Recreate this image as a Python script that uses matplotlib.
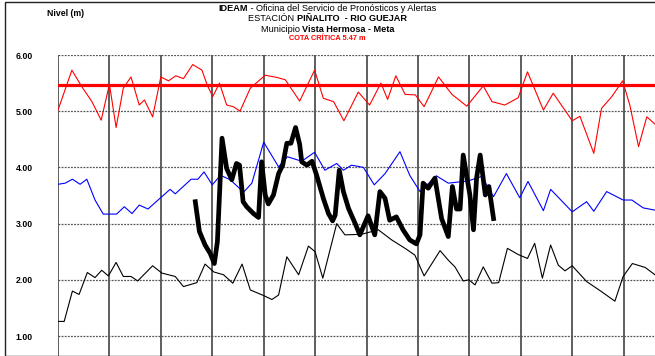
import numpy as np
import matplotlib.pyplot as plt
from matplotlib.patches import Rectangle

plt.rcParams['font.family'] = ['Liberation Sans', 'DejaVu Sans']

# niveles (m) por dia; x en dias desde el inicio de la grafica
x_max = [0, 0.27, 0.46, 0.66, 0.84, 1.0, 1.13, 1.27, 1.42, 1.58, 1.68, 1.84,
         2.0, 2.15, 2.29, 2.44, 2.62, 2.8, 2.9, 3.01, 3.14, 3.28, 3.41, 3.54,
         3.74, 4.03, 4.26, 4.42, 4.7, 4.99, 5.16, 5.36, 5.56, 5.84, 6.06,
         6.28, 6.41, 6.57, 6.75, 6.95, 7.12, 7.4, 7.66, 7.95, 8.27, 8.44,
         8.69, 8.95, 9.13, 9.44, 9.63, 10.0, 10.15, 10.42, 10.57, 10.77,
         10.98, 11.12, 11.29, 11.45, 11.61]
nivel_max = [5.02, 5.73, 5.44, 5.17, 4.84, 5.48, 4.71, 5.41, 5.61, 5.11, 5.2,
             4.9, 5.61, 5.54, 5.63, 5.58, 5.83, 5.73, 5.47, 5.26, 5.5, 5.11,
             5.08, 5.0, 5.41, 5.64, 5.6, 5.56, 5.18, 5.73, 5.23, 5.17, 4.83,
             5.34, 5.11, 5.5, 5.21, 5.63, 5.3, 5.29, 5.08, 5.61, 5.3, 5.09,
             5.45, 5.17, 5.11, 5.24, 5.7, 5.02, 5.32, 4.83, 4.91, 4.25, 5.05,
             5.26, 5.54, 5.11, 4.37, 4.9, 4.77]

x_med = [0, 0.14, 0.28, 0.43, 0.56, 0.72, 0.88, 1.14, 1.29, 1.44, 1.58, 1.75,
         2.02, 2.18, 2.28, 2.59, 2.72, 2.84, 3.0, 3.16, 3.35, 3.61, 3.77,
         4.0, 4.29, 4.46, 4.74, 4.99, 5.19, 5.42, 5.55, 5.71, 5.94, 6.15,
         6.36, 6.65, 6.84, 7.04, 7.36, 7.59, 7.98, 8.24, 8.47, 8.72, 8.98,
         9.14, 9.44, 9.58, 10.0, 10.28, 10.42, 10.67, 10.99, 11.16, 11.38,
         11.61]
nivel_med = [3.7, 3.72, 3.79, 3.7, 3.79, 3.42, 3.17, 3.17, 3.3, 3.18, 3.33,
             3.26, 3.48, 3.61, 3.53, 3.79, 3.79, 3.92, 3.69, 3.86, 3.78, 3.56,
             3.72, 4.45, 4.01, 4.19, 4.11, 4.27, 3.95, 4.07, 3.95, 4.04, 4.0,
             3.69, 3.89, 4.28, 3.86, 3.57, 3.85, 3.72, 3.76, 3.84, 3.48, 3.89,
             3.46, 3.75, 3.23, 3.61, 3.21, 3.39, 3.22, 3.57, 3.42, 3.42, 3.28,
             3.24]

x_min = [0, 0.12, 0.28, 0.41, 0.57, 0.72, 0.85, 0.98, 1.13, 1.27, 1.42, 1.55,
         1.84, 2.02, 2.28, 2.44, 2.7, 2.86, 3.03, 3.22, 3.4, 3.58, 3.74, 4.0,
         4.16, 4.29, 4.45, 4.68, 4.87, 5.0, 5.15, 5.42, 5.58, 5.9, 6.23,
         6.49, 6.75, 6.94, 7.12, 7.43, 7.59, 7.72, 7.88, 7.99, 8.11, 8.27,
         8.44, 8.57, 8.74, 8.95, 9.13, 9.27, 9.42, 9.58, 9.73, 9.86, 10.0,
         10.28, 10.57, 10.83, 10.99, 11.17, 11.42, 11.61]
nivel_min = [1.26, 1.26, 1.8, 1.74, 2.13, 2.04, 2.17, 2.07, 2.31, 2.06, 2.06,
             1.98, 2.25, 2.12, 2.06, 1.88, 1.95, 2.28, 2.14, 2.09, 1.94, 2.28,
             1.82, 1.72, 1.65, 1.73, 2.41, 2.09, 2.6, 2.5, 2.03, 3.0, 2.8,
             2.81, 2.89, 2.71, 2.56, 2.44, 2.07, 2.52, 2.35, 2.23, 1.98, 2.0,
             1.91, 2.23, 1.94, 1.95, 2.56, 2.45, 2.38, 2.65, 2.03, 2.62, 2.26,
             2.16, 2.25, 1.97, 1.79, 1.62, 2.06, 2.29, 2.22, 2.09]

x_act = [2.67, 2.75, 2.86, 2.96, 3.04, 3.1, 3.19, 3.28, 3.38, 3.47, 3.53,
         3.6, 3.67, 3.8, 3.9, 3.96, 4.03, 4.09, 4.19, 4.29, 4.37, 4.45, 4.53,
         4.62, 4.7, 4.74, 4.84, 4.94, 5.03, 5.16, 5.26, 5.34, 5.39, 5.47,
         5.55, 5.65, 5.78, 5.87, 6.03, 6.16, 6.26, 6.36, 6.45, 6.58, 6.71,
         6.84, 6.97, 7.04, 7.1, 7.2, 7.33, 7.46, 7.59, 7.67, 7.75, 7.82, 7.88,
         8.01, 8.08, 8.14, 8.21, 8.31, 8.38, 8.47]
nivel_act = [3.39, 2.86, 2.62, 2.47, 2.29, 2.68, 4.52, 3.98, 3.78, 4.07, 4.04,
             3.39, 3.3, 3.18, 3.11, 4.1, 3.51, 3.35, 3.51, 3.89, 4.04, 4.43,
             4.43, 4.71, 4.41, 4.1, 4.04, 4.11, 3.86, 3.45, 3.18, 3.05, 3.15,
             3.95, 3.57, 3.27, 3.0, 2.8, 3.14, 2.8, 3.57, 3.45, 3.06, 3.12,
             2.89, 2.71, 2.64, 2.8, 3.72, 3.63, 3.81, 3.09, 2.77, 3.66, 3.26,
             3.26, 4.22, 3.51, 2.89, 3.81, 4.22, 3.51, 3.66, 3.09]

cota_critica = 5.47
dias = list(range(12))
niveles = [1, 2, 3, 4, 5, 6]

titulo = [
    [("IDEAM", 'bold'), (" - Oficina del Servicio de Pronósticos y Alertas", 'normal')],
    [("ESTACIÓN ", 'normal'), ("PIÑALITO  - RIO GUEJAR", 'bold')],
    [("Municipio ", 'normal'), ("Vista Hermosa - Meta", 'bold')],
]

fig = plt.figure(figsize=(6.55, 3.56), dpi=100)
ax = fig.add_axes([58/655, 0, 1 - 58/655, 1 - 55/356])

ax.plot(x_max, nivel_max, color='#ff0000', lw=0.8)
ax.plot(x_med, nivel_med, color='#0000ff', lw=0.8)
ax.plot(x_min, nivel_min, color='black', lw=0.8)
ax.plot(x_act, nivel_act, color='black', lw=3.4, solid_joinstyle='round')
ax.axhline(cota_critica, color='#ff0000', lw=2.3)

ax.set_xlim(0, 11.61)
ax.set_ylim(0.645, 6.0)
ax.set_xticks(dias)
ax.set_yticks(niveles)
ax.set_yticklabels([f"{v:.2f}" for v in niveles], fontsize=6.3, fontweight='bold')
ax.tick_params(axis='x', length=0, labelbottom=False)
ax.tick_params(axis='y', length=0, pad=18)
ax.grid(axis='x', color='#333333', lw=1.1, ls='-')
ax.grid(axis='y', color='#555555', lw=0.9, ls=(0, (1.5, 1)))
for s in ax.spines.values():
    s.set_visible(False)
ax.set_axisbelow(True)

fig.text(47/655, 1 - 13/356, "Nivel (m)", fontsize=6.3, fontweight='bold',
         va='center')

# title lines with mixed weights, centered on the figure
r = fig.canvas.get_renderer()
W = fig.bbox.width
for i, partes in enumerate(titulo):
    y = 1 - (8.5 + 10.3*i)/356
    txts = [fig.text(0, y, s, fontsize=6.6, fontweight=w, va='center')
            for s, w in partes]
    anchos = [t.get_window_extent(r).width for t in txts]
    x0 = (W - sum(anchos))/2
    for t, a in zip(txts, anchos):
        t.set_x(x0/W)
        x0 += a
fig.text(0.5, 1 - 38.5/356, "COTA CRÍTICA 5.47 m", fontsize=5.3,
         fontweight='bold', color='#ff0000', ha='center', va='center')

fig.patches.append(Rectangle((5/655, 0), 1, 1 - 1.5/356, transform=fig.transFigure,
                             fill=False, ec='#222222', lw=1.0))

fig.savefig('out.png', dpi=100)
